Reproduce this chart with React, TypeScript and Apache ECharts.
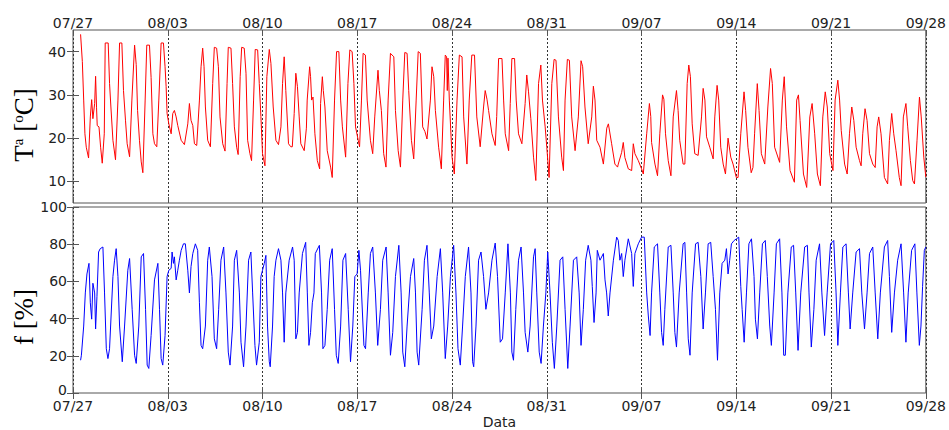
import React, { useEffect, useRef } from "react";
import * as echarts from "echarts";

// Tick labels (one every 7 days, starting 07/27)
const DATE_LABELS = ["07/27", "08/03", "08/10", "08/17", "08/24", "08/31", "09/07", "09/14", "09/21", "09/28"];
const TEMP_TICKS = [10, 20, 30, 40];
const HUM_TICKS = [0, 20, 40, 60, 80, 100];

// Air temperature [ºC]: [days since 07/27 00:00, value]
const TEMP_DATA: [number, number][] = [
  [0.56,44],[0.69,37.7],[0.79,28.8],[0.88,21],[0.98,17.9],
  [1.15,15.4],[1.28,24.9],[1.38,28.9],[1.47,24.5],[1.6,28],[1.67,34.3],[1.74,27],[1.79,22.9],[1.92,22.6],[2.04,17.9],
  [2.16,14.2],[2.31,21],[2.38,42],[2.6,42],[2.7,32.6],[2.8,27.2],[2.95,19.5],
  [3.14,15],[3.32,28.8],[3.44,42],[3.61,42],[3.73,31],[3.88,24],[4.0,18.7],
  [4.18,15.7],[4.35,28.8],[4.55,41.5],[4.67,37],[4.77,26.4],[4.91,19.5],[5.04,14.5],
  [5.16,12],[5.33,28.8],[5.45,41.5],[5.65,41.5],[5.77,34],[5.9,21],[6.02,18.7],
  [6.19,18],[6.34,28.8],[6.51,42],[6.68,42],[6.8,36.5],[6.88,31.9],[6.95,25.7],
  [7.08,23.3],[7.25,21],[7.37,25.7],[7.49,26.4],[7.62,24.9],[7.74,22.9],[7.99,19.5],
  [8.23,18.5],[8.48,23.3],[8.6,28],[8.72,24.1],[8.85,22.9],[8.97,18.7],
  [9.14,18.3],[9.34,28.8],[9.46,36.5],[9.58,40.8],[9.68,36.5],[9.78,27.2],[9.95,19.5],
  [10.15,18],[10.32,32.6],[10.44,41],[10.61,40.8],[10.74,36.5],[10.86,24.9],[11.06,18.7],
  [11.23,17],[11.38,32.6],[11.47,41],[11.67,40.8],[11.79,32.6],[11.92,22.6],[12.09,17.9],
  [12.2,16.2],[12.35,34.2],[12.46,41],[12.65,40.8],[12.78,35],[12.9,19.5],[13.07,16.4],
  [13.19,14.8],[13.34,28.8],[13.46,40.5],[13.64,40.4],[13.76,32.6],[13.88,25],[14.0,16.4],
  [14.18,13.6],[14.32,34.2],[14.5,40.5],[14.62,37.3],[14.79,27.2],[14.99,19.5],
  [15.18,18.5],[15.36,22.6],[15.48,32.6],[15.6,38.8],[15.72,31],[15.92,18.7],[16.09,18],
  [16.2,18],[16.34,25.7],[16.46,35],[16.58,31.9],[16.71,24.9],[16.83,18.7],[17.08,17.1],
  [17.24,22.3],[17.3,28.8],[17.48,36.5],[17.55,34.2],[17.63,28.8],[17.73,29.5],[17.87,21],[18.05,14.8],
  [18.22,12.9],[18.29,28],[18.42,34.2],[18.49,31],[18.61,27.2],[18.78,17.1],[19.03,13.3],
  [19.15,10.9],[19.32,28.8],[19.47,40],[19.64,40],[19.77,28.8],[19.9,22.6],[20.14,15.6],
  [20.31,32.6],[20.45,40.4],[20.62,40],[20.75,32.6],[20.87,22.6],[21.07,19.5],
  [21.17,18],[21.31,28.8],[21.43,39.6],[21.6,39.2],[21.73,28.8],[21.97,19.5],[22.14,16.4],
  [22.29,24.9],[22.53,35.7],[22.63,31],[22.78,26.4],[22.95,16.4],[23.12,13.3],
  [23.28,28.8],[23.45,39.6],[23.7,38.8],[23.82,26.4],[24.02,17.1],[24.19,13.3],
  [24.36,28.8],[24.51,39.8],[24.68,39.6],[24.8,31],[25.0,19.5],[25.17,15.2],
  [25.35,28.8],[25.5,40],[25.66,39.6],[25.83,22.6],[26.0,21.5],[26.15,19.8],
  [26.4,28.8],[26.52,36.5],[26.65,34.2],[26.77,26.4],[27.01,17.9],[27.21,12.9],
  [27.38,28.8],[27.5,39.2],[27.6,38.8],[27.65,31],[27.7,38.5],[27.8,28.8],[28.0,15.6],[28.17,11.7],
  [28.37,28.8],[28.54,39.2],[28.74,38.8],[28.86,24.9],[29.1,14],
  [29.27,28.8],[29.46,39.2],[29.66,39.2],[29.83,24.9],[30.08,18],
  [30.33,27.2],[30.45,31],[30.58,29],[30.7,26.4],[30.95,21],[31.19,18.3],
  [31.3,25],[31.44,38.4],[31.69,38.4],[31.81,28.8],[31.93,21],[32.18,17.1],
  [32.3,28],[32.42,38.4],[32.62,38.4],[32.74,28.8],[32.91,21],[33.16,18.7],
  [33.4,28],[33.52,34.6],[33.65,30.7],[33.82,24.5],[34.02,15.6],[34.19,10.2],
  [34.39,32.6],[34.56,36.9],[34.68,28.8],[34.88,22.6],[35.0,17.9],[35.17,10.9],
  [35.37,32.6],[35.54,38.2],[35.68,38],[35.86,24.9],[36.1,15.6],[36.23,12.5],
  [36.35,28.8],[36.52,38.2],[36.67,38],[36.84,24.9],[37.09,17.1],
  [37.33,24.9],[37.53,37.9],[37.65,36.5],[37.82,27.2],[38.06,18.7],
  [38.32,24.9],[38.44,32],[38.56,28.8],[38.69,19.5],[38.93,17.9],[39.18,14],
  [39.43,22.3],[39.55,23.3],[39.79,18.7],[40.03,14],[40.23,13.3],
  [40.28,14],[40.53,16.7],[40.65,19],[40.77,15.5],[41.02,12.9],
  [41.27,12.5],[41.39,18.7],[41.51,16.4],[41.76,14.8],[42.0,12.9],
  [42.13,11.7],[42.38,21],[42.58,28],[42.68,25],[42.74,19],[42.99,14],[43.18,11.3],
  [43.35,21],[43.55,30],[43.65,29],[43.77,21],[43.97,14.8],[44.17,11.3],
  [44.34,24.9],[44.58,31],[44.7,26.4],[44.82,19.5],[45.07,14],[45.2,14],
  [45.37,32.6],[45.49,36.9],[45.61,34.2],[45.74,23.3],[45.93,16.4],[46.18,16],
  [46.43,24.9],[46.55,31.5],[46.68,28.8],[46.8,20.3],[47.04,17.9],[47.29,15.2],
  [47.41,24.9],[47.58,32.2],[47.7,28.8],[47.85,17.9],[48.03,14],[48.2,11.7],
  [48.39,20],[48.59,15.6],[48.76,14],[49.0,10.9],
  [49.13,10.9],[49.33,21],[49.57,30.7],[49.69,26.4],[49.86,17.9],[50.1,12],
  [50.23,13.2],[50.35,21],[50.55,32.6],[50.68,26.4],[50.85,16.4],[51.1,14],
  [51.33,27.2],[51.53,36.1],[51.66,32.6],[51.83,17.9],[52.2,14.4],
  [52.4,28.8],[52.54,34.2],[52.71,22.6],[52.97,12.5],[53.29,9.8],
  [53.46,28.8],[53.59,30],[53.71,24.1],[53.96,11.7],[54.2,8.6],
  [54.43,24.9],[54.6,28],[54.79,21],[54.99,11.7],[55.21,9],
  [55.39,24.9],[55.57,30.7],[55.72,27.2],[55.9,16.4],[56.14,12.5],
  [56.3,28.8],[56.5,33.4],[56.63,28.8],[56.75,21.8],[57.0,14],[57.19,11.7],
  [57.36,21],[57.53,27.2],[57.68,24.1],[57.85,17.9],[58.1,14.8],[58.22,13.6],
  [58.34,21],[58.51,26.8],[58.66,24.1],[58.84,16.4],[59.08,14],[59.26,13.2],
  [59.4,22.6],[59.52,24.9],[59.69,21],[59.94,10.9],[60.18,9.4],
  [60.31,19.5],[60.48,25.7],[60.63,21],[60.8,17.1],[61.04,10.9],[61.17,9],
  [61.34,24.9],[61.53,28],[61.66,22.6],[61.86,14.8],[62.03,10.2],[62.16,9.4],
  [62.35,19.5],[62.53,29.5],[62.66,24.9],[62.85,15.6],[63.0,11],
];

// Relative humidity [%]: [days since 07/27 00:00, value]
const HUM_DATA: [number, number][] = [
  [0.56,17.6],[0.62,20.3],[0.79,36],[0.91,53.8],[1.03,64],[1.18,69.7],[1.28,48.5],[1.38,39.7],[1.47,59],[1.6,53.8],
  [1.67,34.4],[1.77,52],[1.89,75.8],[2.01,77.6],[2.21,78.5],[2.33,53.8],[2.46,23.8],[2.58,18.5],[2.7,23.8],[2.95,62.6],
  [3.07,71.4],[3.19,77.6],[3.32,62.6],[3.44,36],[3.64,16.8],[3.81,36],[4.05,66],[4.18,72.3],[4.37,45],[4.55,20.3],
  [4.67,15.9],[4.86,36],[5.04,73.2],[5.21,75],[5.36,45],[5.48,15],[5.6,13.2],[5.77,30.9],[6.02,60.8],[6.27,69.7],
  [6.39,45],[6.51,18.5],[6.63,15],[6.8,30.9],[6.95,62.6],[7.08,66],[7.25,67],[7.32,75.8],[7.42,69.7],[7.49,73.2],
  [7.62,60.8],[7.74,66],[7.86,71.4],[7.99,76.7],[8.16,80.2],[8.3,80.2],[8.48,66],[8.6,53.8],[8.72,68],[8.85,75],
  [9.04,80.2],[9.21,76.7],[9.34,48.5],[9.46,25.6],[9.58,23.8],[9.78,36],[9.95,71.4],[10.07,78.5],[10.27,62.6],[10.44,29.1],
  [10.61,23.8],[10.76,45],[10.93,71.4],[11.13,78.5],[11.3,53.8],[11.47,22],[11.6,15],[11.79,36],[11.92,71.4],[12.09,76.7],
  [12.29,53.8],[12.41,27.3],[12.6,14.1],[12.78,36],[12.97,71.4],[13.14,75.8],[13.27,53.8],[13.44,25.6],[13.56,15],[13.76,27.3],
  [13.88,62.6],[14.0,66],[14.13,69.7],[14.25,74],[14.37,36],[14.5,16.8],[14.57,14.1],[14.74,36],[14.86,62.6],[14.99,71.4],
  [15.18,77.6],[15.36,71.4],[15.48,53.8],[15.6,27.3],[15.72,53.8],[15.97,71.4],[16.22,78.5],[16.34,71.4],[16.46,29.1],[16.58,32.6],
  [16.71,53.8],[16.95,75],[17.19,81],[17.31,53.8],[17.43,25.6],[17.55,32.6],[17.68,48.5],[17.8,53.8],[17.9,75],[18.2,79.4],
  [18.36,53.8],[18.46,23.8],[18.61,25.6],[18.78,45],[18.96,71.4],[19.15,77.6],[19.32,45],[19.45,20.3],[19.59,15.9],[19.77,36],
  [19.94,71.4],[20.14,75],[20.33,45],[20.5,16.8],[20.67,36],[20.82,62.6],[20.99,64],[21.12,76.7],[21.24,66],[21.49,25.6],
  [21.61,23.8],[21.81,53.8],[21.97,75],[22.14,78.5],[22.34,53.8],[22.51,25.6],[22.71,45],[22.88,71.4],[23.13,78.5],[23.28,53.8],
  [23.45,20.3],[23.62,32.6],[23.82,62.6],[24.07,79.4],[24.24,53.8],[24.36,22],[24.51,14.1],[24.68,36],[24.93,62.6],[25.17,72.3],
  [25.3,53.8],[25.42,22],[25.54,15],[25.79,45],[25.96,71.4],[26.15,79.4],[26.32,53.8],[26.47,29.1],[26.65,36],[26.9,62.6],
  [27.14,77.6],[27.31,53.8],[27.5,18.5],[27.68,36],[27.88,62.6],[28.12,79.4],[28.29,53.8],[28.44,23.8],[28.61,15],[28.78,36],
  [28.98,62.6],[29.22,78.5],[29.4,53.8],[29.52,16.8],[29.6,14.1],[29.77,36],[29.96,71.4],[30.14,75.8],[30.33,62.6],[30.5,45],
  [30.7,53.8],[30.95,71.4],[31.19,80.6],[31.36,62.6],[31.56,27.3],[31.73,29.1],[31.93,53.8],[32.13,80.2],[32.31,53.8],[32.42,22],
  [32.54,17.6],[32.71,45],[32.91,71.4],[33.1,78.5],[33.28,53.8],[33.4,32.6],[33.6,22],[33.77,36],[34.02,73.2],[34.14,77.6],
  [34.26,53.8],[34.44,22],[34.58,15.9],[34.75,36],[34.93,53.8],[35.07,75.8],[35.24,53.8],[35.41,27.3],[35.56,13.2],[35.74,36],
  [35.98,71.4],[36.18,73.2],[36.35,45],[36.55,13.2],[36.72,36],[36.97,71.4],[37.21,73.2],[37.39,53.8],[37.53,25.6],[37.7,45],
  [37.87,71.4],[38.06,79.4],[38.26,71.4],[38.36,57.3],[38.49,37.9],[38.64,53.8],[38.73,76.7],[38.93,71.4],[39.18,75],[39.3,60.8],
  [39.42,53.8],[39.54,41.4],[39.67,53.8],[39.92,71.4],[40.16,83.8],[40.28,82],[40.4,71.4],[40.53,75],[40.65,62.6],[40.77,71.4],
  [41.02,82.9],[41.27,75],[41.39,57.3],[41.51,75],[41.76,80.2],[42.0,83.8],[42.2,83.8],[42.38,53.8],[42.5,41.4],[42.63,30.9],
  [42.74,53.8],[42.94,78.5],[43.18,80.2],[43.35,53.8],[43.48,32.6],[43.6,25.6],[43.72,45],[43.97,78.5],[44.17,79.4],[44.34,53.8],
  [44.46,32.6],[44.58,24.7],[44.78,53.8],[45.07,80.2],[45.2,81],[45.33,53.8],[45.45,29.1],[45.58,20.3],[45.74,53.8],[45.99,80.2],
  [46.18,81],[46.38,62.6],[46.55,34.4],[46.72,53.8],[46.92,80.2],[47.11,81],[47.29,62.6],[47.46,45],[47.61,17.6],[47.78,53.8],
  [47.95,69.7],[48.15,71.4],[48.27,77.6],[48.39,64],[48.51,71.4],[48.64,80.2],[48.84,82],[49.01,82.9],[49.18,83.8],[49.33,57.3],
  [49.43,45],[49.58,27.3],[49.75,53.8],[49.93,80.2],[50.12,82.9],[50.31,62.6],[50.41,39.7],[50.56,29.1],[50.73,53.8],[50.93,80.2],
  [51.14,82],[51.29,62.6],[51.47,36],[51.59,25.6],[51.79,53.8],[51.96,80.2],[52.2,82.9],[52.37,53.8],[52.5,20.3],[52.62,20.3],
  [52.81,53.8],[53.06,78.5],[53.23,79.4],[53.39,53.8],[53.56,22.9],[53.76,53.8],[54.05,78.5],[54.25,79.4],[54.37,53.8],[54.54,24.7],
  [54.73,45],[54.9,71.4],[55.15,80.2],[55.32,53.8],[55.52,30.9],[55.71,53.8],[55.96,80.2],[56.2,82],[56.37,53.8],[56.5,25.6],
  [56.69,53.8],[56.87,78.5],[57.11,80.2],[57.28,53.8],[57.41,34.4],[57.6,53.8],[57.85,75.8],[58.1,77.6],[58.27,53.8],[58.47,34.4],
  [58.66,53.8],[58.84,75],[59.08,78.5],[59.26,53.8],[59.45,29.1],[59.64,53.8],[59.94,78.5],[60.18,82],[60.31,62.6],[60.48,32.6],
  [60.68,53.8],[60.92,71.4],[61.17,80.2],[61.36,53.8],[61.53,27.3],[61.7,53.8],[61.95,76.7],[62.19,80.2],[62.34,53.8],[62.52,25.6],
  [62.64,36],[62.76,57.3],[62.89,76.7],[63.0,78.5],
];

const LABEL_FONT = "DejaVu Sans";
const LABEL_COLOR = "#222";
const FRAME_COLOR = "#555";

export default function App() {
  const ref = useRef<HTMLDivElement>(null);

  useEffect(() => {
    if (!ref.current) return;
    const chart = echarts.init(ref.current, undefined, { renderer: "svg" });

    const dateFmt = (v: number) => DATE_LABELS[Math.round(v / 7)] ?? "";
    const tickInside = { show: true, inside: true, length: 6, lineStyle: { color: FRAME_COLOR } };
    const labelStyle = { fontFamily: LABEL_FONT, fontSize: 14, color: LABEL_COLOR };
    const gridLine = { show: true, lineStyle: { color: "#333", type: [2, 2] as number[], width: 1 } };

    const xBase = { type: "value" as const, min: 0, max: 63, interval: 7, axisLine: { show: false } };

    chart.setOption({
      animation: false,
      backgroundColor: "#ffffff",
      grid: [
        { left: 73, top: 30, width: 855, height: 173, show: true, borderColor: FRAME_COLOR, borderWidth: 1, backgroundColor: "transparent" },
        { left: 73, top: 207, width: 855, height: 190, show: true, borderColor: FRAME_COLOR, borderWidth: 1, backgroundColor: "transparent" },
      ],
      xAxis: [
        { ...xBase, gridIndex: 0, position: "top", axisTick: tickInside, splitLine: gridLine,
          axisLabel: { ...labelStyle, margin: 0, formatter: dateFmt, showMinLabel: true, showMaxLabel: true } },
        { ...xBase, gridIndex: 0, position: "bottom", axisTick: tickInside, splitLine: { show: false }, axisLabel: { show: false } },
        { ...xBase, gridIndex: 1, position: "bottom", axisTick: tickInside, splitLine: gridLine,
          axisLabel: { ...labelStyle, margin: 6, formatter: dateFmt, showMinLabel: true, showMaxLabel: true },
          name: "Data", nameLocation: "middle", nameGap: 22,
          nameTextStyle: { fontFamily: LABEL_FONT, fontSize: 14, color: LABEL_COLOR } },
        { ...xBase, gridIndex: 1, position: "top", axisTick: tickInside, splitLine: { show: false }, axisLabel: { show: false } },
      ],
      yAxis: [
        { type: "value", gridIndex: 0, position: "left", min: 5, max: 45, axisLine: { show: false }, splitLine: { show: false },
          axisTick: { ...tickInside, customValues: TEMP_TICKS },
          axisLabel: { ...labelStyle, margin: 7, customValues: TEMP_TICKS } },
        { type: "value", gridIndex: 0, position: "right", min: 5, max: 45, axisLine: { show: false }, splitLine: { show: false },
          axisTick: { ...tickInside, customValues: TEMP_TICKS }, axisLabel: { show: false } },
        { type: "value", gridIndex: 1, position: "left", min: 0, max: 100, interval: 20, axisLine: { show: false }, splitLine: { show: false },
          axisTick: { ...tickInside, customValues: HUM_TICKS },
          axisLabel: { ...labelStyle, margin: 6, customValues: HUM_TICKS,
            formatter: (v: number) => (v === 0 ? "{z|0}" : String(v)),
            rich: { z: { fontFamily: LABEL_FONT, fontSize: 14, color: LABEL_COLOR, padding: [0, 0, 7, 0] } } } },
        { type: "value", gridIndex: 1, position: "right", min: 0, max: 100, interval: 20, axisLine: { show: false }, splitLine: { show: false },
          axisTick: { ...tickInside, customValues: HUM_TICKS }, axisLabel: { show: false } },
      ],
      series: [
        { type: "line", name: "Tª", xAxisIndex: 0, yAxisIndex: 0, data: TEMP_DATA, showSymbol: false,
          lineStyle: { color: "#ff0000", width: 1 }, itemStyle: { color: "#ff0000" } },
        { type: "line", name: "f", xAxisIndex: 2, yAxisIndex: 2, data: HUM_DATA, showSymbol: false,
          lineStyle: { color: "#0000ff", width: 1 }, itemStyle: { color: "#0000ff" } },
      ],
      graphic: [
        { type: "text", x: 24, y: 125, rotation: Math.PI / 2,
          style: {
            text: "{n|T}{s|a}{n| [}{s|o}{n|C]}",
            align: "center", verticalAlign: "middle", fill: "#000",
            rich: {
              n: { fontFamily: "Liberation Serif", fontSize: 27, fill: "#000", lineHeight: 28 },
              s: { fontFamily: "Liberation Serif", fontSize: 15, fill: "#000", verticalAlign: "top", lineHeight: 28 },
            },
          } },
        { type: "text", x: 24, y: 317, rotation: Math.PI / 2,
          style: { text: "f [%]", align: "center", verticalAlign: "middle", fill: "#000",
            font: '27px "Liberation Serif"' } },
      ],
    });

    return () => chart.dispose();
  }, []);

  return <div ref={ref} style={{ position: "fixed", left: 0, top: 0, width: 949, height: 430 }} />;
}
